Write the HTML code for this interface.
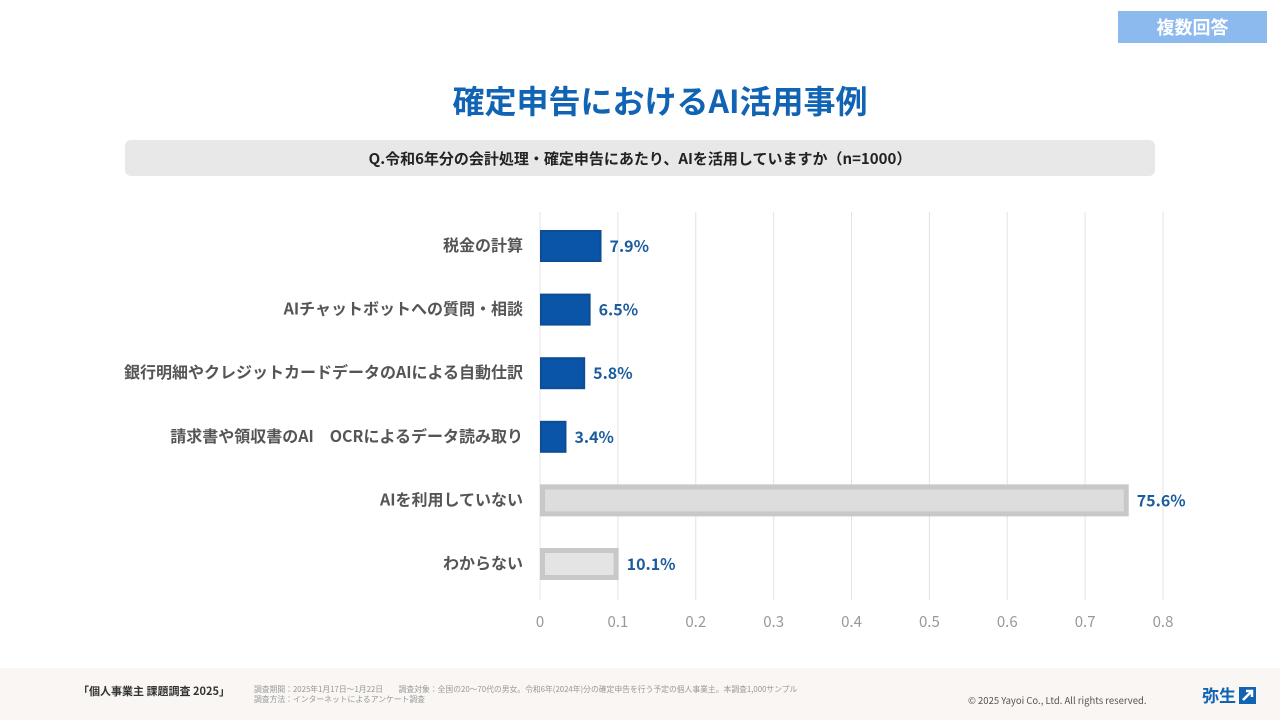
<!DOCTYPE html>
<html><head><meta charset="utf-8"><style>
body{margin:0;width:1280px;height:720px;background:#fff;font-family:"Noto Sans CJK JP","Liberation Sans",sans-serif;position:relative;overflow:hidden}
.abs{position:absolute}
</style></head><body>
<div class="abs" style="left:1118px;top:11px;width:149px;height:32px;background:#8cb9ee;color:#fff;font-weight:bold;font-size:18px;line-height:32px;text-align:center">複数回答</div>
<div class="abs" style="left:0;top:78px;width:1320px;text-align:center;color:#1064b3;font-weight:bold;font-size:32px;line-height:44px">確定申告におけるAI活用事例</div>
<div class="abs" style="left:125px;top:140px;width:1030px;height:36px;background:#e9e8e8;border-radius:6px;text-align:center;font-weight:bold;font-size:15px;line-height:38px;color:#222">Q.令和6年分の会計処理・確定申告にあたり、AIを活用していますか（n=1000）</div>
<svg class="abs" style="left:0;top:0" width="1280" height="668" id="chart"></svg>
<div class="abs" style="left:0;top:668px;width:1280px;height:52px;background:#f9f6f3"></div>
<div class="abs" style="left:78px;top:683px;font-size:11px;color:#333;font-weight:bold">「個人事業主 課題調査 2025」</div>
<div class="abs" style="left:254px;top:685px;font-size:7.8px;color:#999;line-height:10px">調査期間：2025年1月17日〜1月22日　　調査対象：全国の20〜70代の男女。令和6年(2024年)分の確定申告を行う予定の個人事業主。本調査1,000サンプル<br>調査方法：インターネットによるアンケート調査</div>
<div class="abs" style="left:968px;top:693px;font-size:9.5px;color:#555">© 2025 Yayoi Co., Ltd.  All rights reserved.</div>
<div class="abs" style="left:1202px;top:682px;font-size:17px;font-weight:bold;color:#1064b3">弥生<svg width="17" height="17" style="vertical-align:-2px;margin-left:3px"><rect width="17" height="17" fill="#1064b3"/><path d="M4 13 L13 4 M7 4 H13 V10" stroke="#fff" stroke-width="2.5" fill="none"/></svg></div>
<script>
const categories=["税金の計算","AIチャットボットへの質問・相談","銀行明細やクレジットカードデータのAIによる自動仕訳","請求書や領収書のAI　OCRによるデータ読み取り","AIを利用していない","わからない"];
const values=[0.079,0.065,0.058,0.034,0.756,0.101];
const valueLabels=["7.9%","6.5%","5.8%","3.4%","75.6%","10.1%"];
const tickValues=[0,0.1,0.2,0.3,0.4,0.5,0.6,0.7,0.8];
const tickLabels=["0","0.1","0.2","0.3","0.4","0.5","0.6","0.7","0.8"];
const highlight=[true,true,true,true,false,false];
const svg=document.getElementById('chart');const NS="http://www.w3.org/2000/svg";
const x=v=>540+v*778.75;const y=i=>246+i*63.6;
function mk(t,a,txt){const e=document.createElementNS(NS,t);for(const k in a)e.setAttribute(k,a[k]);if(txt!==undefined)e.textContent=txt;svg.appendChild(e);return e;}
tickValues.forEach((v,i)=>{const g=mk('line',{x1:x(v),x2:x(v),y1:212,y2:600,stroke:'#e3e3e3','stroke-width':1});


const t=mk('text',{x:x(v),y:627,'text-anchor':'middle','font-size':15,fill:'#999'},tickLabels[i]);

});
categories.forEach((c,i)=>{const cy=y(i);
const l=mk('text',{x:523,y:cy+5,'text-anchor':'end','font-size':16,'font-weight':'bold',fill:'#555'},c);


let b;
if(highlight[i]){b=mk('rect',{x:x(0)+1,y:cy-15,width:x(values[i])-x(0)-2,height:30,fill:'#0a55a8',stroke:'#0d4d94','stroke-width':2});}
else{b=mk('rect',{x:x(0)+2.5,y:cy-13.5,width:x(values[i])-x(0)-5,height:27,fill:i==4?'#dcdddc':'#e4e4e4',stroke:'#c8c8c8','stroke-width':5});}


const v=mk('text',{x:x(values[i])+8,y:cy+6,'font-size':16,'font-weight':'bold',fill:'#1a5c9e'},valueLabels[i]);

});
</script>
</body></html>
